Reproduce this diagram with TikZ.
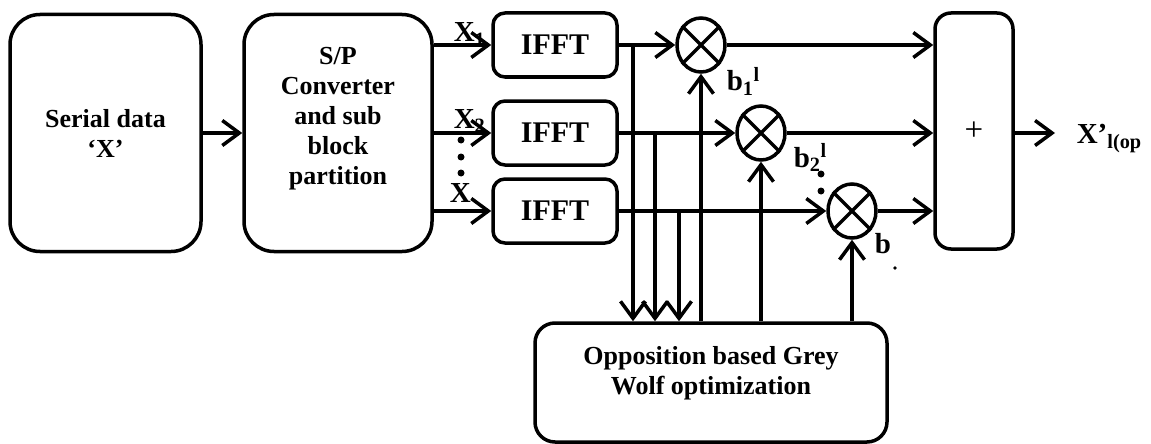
\documentclass[tikz,border=0pt]{standalone}
\usepackage{fontspec}
\setmainfont{Liberation Serif}
\usetikzlibrary{arrows.meta,shapes.geometric}

\begin{document}
\begin{tikzpicture}
  [x=1pt,y=-1pt,line width=3.5pt,
   box/.style={draw,rounded corners=#1,inner sep=0pt},
   mult/.style={draw,ellipse,minimum width=48pt,minimum height=54pt,inner sep=0pt},
   txt/.style={font=\fontsize{26}{30}\selectfont\bfseries,align=center},
   big/.style={font=\fontsize{30}{34}\selectfont\bfseries},
   lbl/.style={font=\fontsize{29}{33}\selectfont\bfseries,inner sep=0pt,anchor=base west},
   arr/.style={-{Straight Barb[length=17pt,width=25pt]}}]
  \useasboundingbox (0,0) rectangle (1151,444);

  % blocks
  \node[box=30pt,minimum width=191pt,minimum height=237pt,txt] (sd) at (105.5,133) {Serial data\\‘X’};
  \node[box=30pt,minimum width=188pt,minimum height=237pt] (sp) at (338,133) {};
  \node[txt] (sptxt) at (338,119) {S/P\\Converter\\and sub\\block\\partition};
  \foreach \i/\y in {1/45,2/133,3/211}
    \node[box=12pt,minimum width=124pt,minimum height=64pt,big] (i\i) at (555,\y) {IFFT};
  \node[mult] (m1) at (701,45)  {};
  \node[mult] (m2) at (761,133) {};
  \node[mult] (m3) at (852,211) {};
  \foreach \m in {m1,m2,m3}
    \draw (\m.45) -- (\m.225) (\m.135) -- (\m.315);
  \node[box=16pt,minimum width=78pt,minimum height=236pt] (sum) at (974,131) {};
  \node[font=\fontsize{33}{36}\selectfont] (plus) at (974,131) {+};
  \node[box=20pt,minimum width=352pt,minimum height=119pt] (opt) at (711,382.5) {};
  \node[txt] (opttxt) at (711,373) {Opposition based Grey\\Wolf optimization};

  % signal paths
  \draw[arr] (sd) -- (sp);
  \foreach \i in {1,2,3} {
    \draw[arr] (sp.east |- i\i.west) -- (i\i.west);
    \draw[arr] (i\i.east) -- (m\i.west);
    \draw[arr] (m\i.east) -- (m\i.east -| sum.west);
  }
  \coordinate (f1) at (633,45);
  \coordinate (f2) at (655,133);
  \coordinate (f3) at (679,211);
  \foreach \i in {1,2,3} {
    \draw[arr] (f\i) -- (f\i |- opt.north);
    \draw[arr] (opt.north -| m\i.south) -- (m\i.south);
  }
  \coordinate (out) at (1055,133);
  \draw[arr] (sum.east |- out) -- (out);

  % labels
  \node[lbl] (x1) at (452,42)  {X\textsubscript{1}};
  \node[lbl] (x2) at (452,128) {X\textsubscript{2}};
  \node[lbl] (x3) at (448,202) {X};
  \node[lbl] (b1) at (725,91)  {b\textsubscript{1}\textsuperscript{l}};
  \node[lbl] (b2) at (792,167) {b\textsubscript{2}\textsuperscript{l}};
  \node[lbl] (b3) at (873,253) {b};
  \node[lbl] (xo) at (1075,143) {X’\textsubscript{l(op}};
  \foreach \y in {140,157,173} \fill (461,\y) circle (3.5pt);
  \foreach \y in {174,191} \fill (821,\y) circle (3.5pt);
  \fill (895,268) circle (1.8pt);
\end{tikzpicture}
\end{document}
